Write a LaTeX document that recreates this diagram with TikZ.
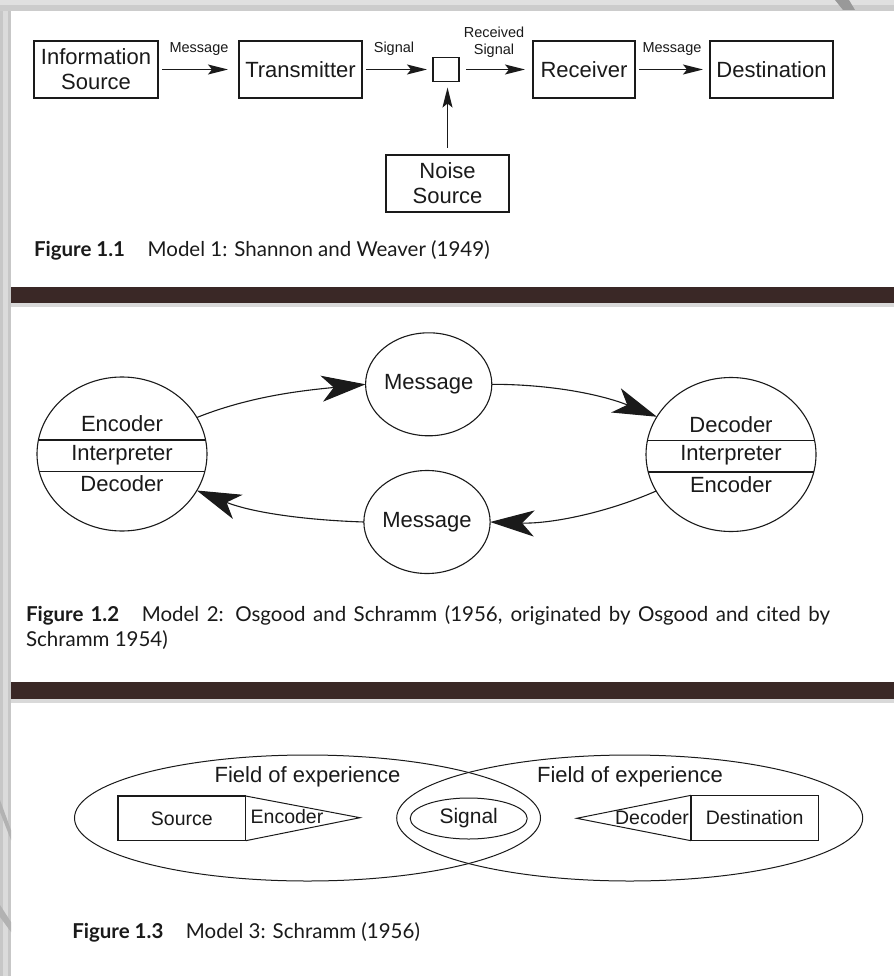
\documentclass[tikz,border=0pt]{standalone}
\usepackage{fontspec}
\setmainfont{Liberation Sans}
\newfontfamily\capfont{Lato}
\usetikzlibrary{shapes.geometric,arrows.meta}
\definecolor{barcol}{HTML}{3A2826}
\definecolor{inkcol}{HTML}{1A1A1A}
\begin{document}
\begin{tikzpicture}[x=1pt,y=-1pt,
  every node/.style={inner sep=0pt,outer sep=0pt,text=inkcol},
  box/.style={draw=inkcol,line width=1.6pt,rectangle,align=center,font=\fontsize{22}{25}\selectfont},
  lbl/.style={align=center,font=\fontsize{14.5}{17}\selectfont},
  arrA/.style={draw=inkcol,line width=1.7pt,-{Stealth[length=20pt,width=10pt,inset=4pt]}},
  bigell/.style={ellipse,draw=inkcol,line width=1.1pt,minimum width=170pt,minimum height=154pt},
  msgell/.style={ellipse,draw=inkcol,line width=1.1pt,minimum width=116pt,minimum height=103pt,font=\fontsize{22}{25}\selectfont},
  celltxt/.style={font=\fontsize{22}{25}\selectfont},
  arrB/.style={draw=inkcol,line width=1.1pt,-{Stealth[length=44pt,width=26pt,inset=12pt]}},
  fieldell/.style={ellipse,draw=inkcol,line width=1pt,minimum width=466pt,minimum height=126pt},
  sbox/.style={draw=inkcol,line width=1.4pt,rectangle,font=\fontsize{19.5}{22}\selectfont},
  stxt/.style={font=\fontsize{19.5}{22}\selectfont},
  captxt/.style={anchor=base west,font=\capfont\fontsize{20.5}{24}\selectfont}
]
% ---------- background ----------
\fill[white] (0,0) rectangle (894,976);
\fill[black!22] (0,0) rectangle (11,976);
\fill[black!14] (3,0) rectangle (8,976);
\fill[black!20] (0,0) rectangle (894,11);
\fill[black!12] (0,0) rectangle (894,5);
\fill[black!40] (835,0) -- (849,0) -- (855,10) -- (843,10) -- cycle;
\fill[black!30] (0,800) -- (11,830) -- (11,840) -- (0,812) -- cycle;
\fill[black!30] (0,905) -- (11,922) -- (11,932) -- (0,917) -- cycle;
\fill[barcol] (11,287) rectangle (894,303);
\fill[black!15] (11,303) rectangle (894,307);
\fill[barcol] (11,682) rectangle (894,699);
\fill[black!15] (11,699) rectangle (894,703);

% ---------- Figure 1.1 ----------
\node[box,minimum width=124pt,minimum height=57pt] (info) at (96,69.5) {Information\\Source};
\node[box,minimum width=123pt,minimum height=57pt] (tx) at (300.5,69.5) {Transmitter};
\node[box,minimum width=26pt,minimum height=24pt] (sq) at (446,69.5) {};
\node[box,minimum width=102pt,minimum height=57pt] (rx) at (584,69.5) {Receiver};
\node[box,minimum width=123pt,minimum height=57pt] (dest) at (771.5,69.5) {Destination};
\node[box,minimum width=123pt,minimum height=57pt] (noise) at (447.5,183.5) {Noise\\Source};

\node[lbl] (l1) at (199,49) {Message};
\node[lbl] (l2) at (394,49) {Signal};
\node[lbl] (l3) at (494,42.5) {Received\\Signal};
\node[lbl] (l4) at (672,49) {Message};

\draw[arrA,shorten <=4pt,shorten >=11pt] (info) -- (tx);
\draw[arrA,shorten <=4pt,shorten >=6pt] (tx) -- (sq);
\draw[arrA,shorten <=7pt,shorten >=8pt] (sq) -- (rx);
\draw[arrA,shorten <=4pt,shorten >=7pt] (rx) -- (dest);
\draw[arrA,shorten <=7pt,shorten >=6pt] (noise.north) -- (noise.north |- sq.south);

\node[captxt] (cap1) at (34,256) {\textbf{Figure 1.1}\hspace{1.1em}Model 1: Shannon and Weaver (1949)};

% ---------- Figure 1.2 ----------
\node[bigell,path picture={
  \draw[inkcol,line width=1.1pt] ([xshift=-100pt,yshift=14pt]path picture bounding box.center) -- ++(200pt,0pt);
  \draw[inkcol,line width=1.1pt] ([xshift=-100pt,yshift=-17.5pt]path picture bounding box.center) -- ++(200pt,0pt);}] (L) at (122,454) {};
\node[celltxt] (le) at (122,424) {Encoder};
\node[celltxt] (li) at (122,455) {Interpreter};
\node[celltxt] (ld) at (122,484) {Decoder};

\node[bigell,path picture={
  \draw[inkcol,line width=1.1pt] ([xshift=-100pt,yshift=14pt]path picture bounding box.center) -- ++(200pt,0pt);
  \draw[inkcol,line width=1.1pt] ([xshift=-100pt,yshift=-17.5pt]path picture bounding box.center) -- ++(200pt,0pt);}] (R) at (731,454.5) {};
\node[celltxt] (rd) at (731,424.5) {Decoder};
\node[celltxt] (ri) at (731,455.5) {Interpreter};
\node[celltxt] (re) at (731,484.5) {Encoder};

\node[msgell] (M1) at (428.7,384.3) {Message};
\node[msgell] (M2) at (427,522) {Message};

\draw[arrB] (L.26) .. controls +(55,-22) and +(-60,6) .. (M1.west);
\draw[arrB] (M1.east) .. controls +(60,0) and +(-55,-22) .. (R.153);
\draw[arrB] (R.206) .. controls +(-50,22) and +(60,2) .. (M2.east);
\draw[arrB] (M2.west) .. controls +(-60,-2) and +(55,22) .. (L.334);

\node[captxt] (cap2a) at (26,621) {\makebox[804pt][s]{\textbf{Figure 1.2}\hspace{1.1em}Model 2: Osgood and Schramm (1956, originated by Osgood and cited by}};
\node[captxt] (cap2b) at (26,646.7) {Schramm 1954)};

% ---------- Figure 1.3 ----------
\node[fieldell] (EL) at (307.5,818) {};
\node[fieldell] (ER) at (629.7,818) {};
\node[ellipse,draw=inkcol,line width=1pt,minimum width=117pt,minimum height=41pt,font=\fontsize{21}{24}\selectfont] (sig) at (468.7,818.5) {Signal};
\node[celltxt] (f1) at (307.5,777.3) {Field of experience};
\node[celltxt] (f2) at (630,777) {Field of experience};

\node[sbox,minimum width=127.7pt,minimum height=44.7pt] (src) at (181.85,818.35) {Source};
\coordinate (enctip) at (360,817.7);
\draw[inkcol,line width=1pt] (src.north east) -- (enctip) -- (src.south east);
\node[stxt] (enc) at (287,816.7) {Encoder};

\node[sbox,minimum width=127.3pt,minimum height=45.4pt] (dst) at (754.65,818) {Destination};
\coordinate (dectip) at (576.7,818.3);
\draw[inkcol,line width=1pt] (dst.north west) -- (dectip) -- (dst.south west);
\node[stxt] (dec) at (652,818) {Decoder};

\node[captxt] (cap3) at (72.3,938.3) {\textbf{Figure 1.3}\hspace{1.1em}Model 3: Schramm (1956)};
\end{tikzpicture}
\end{document}
